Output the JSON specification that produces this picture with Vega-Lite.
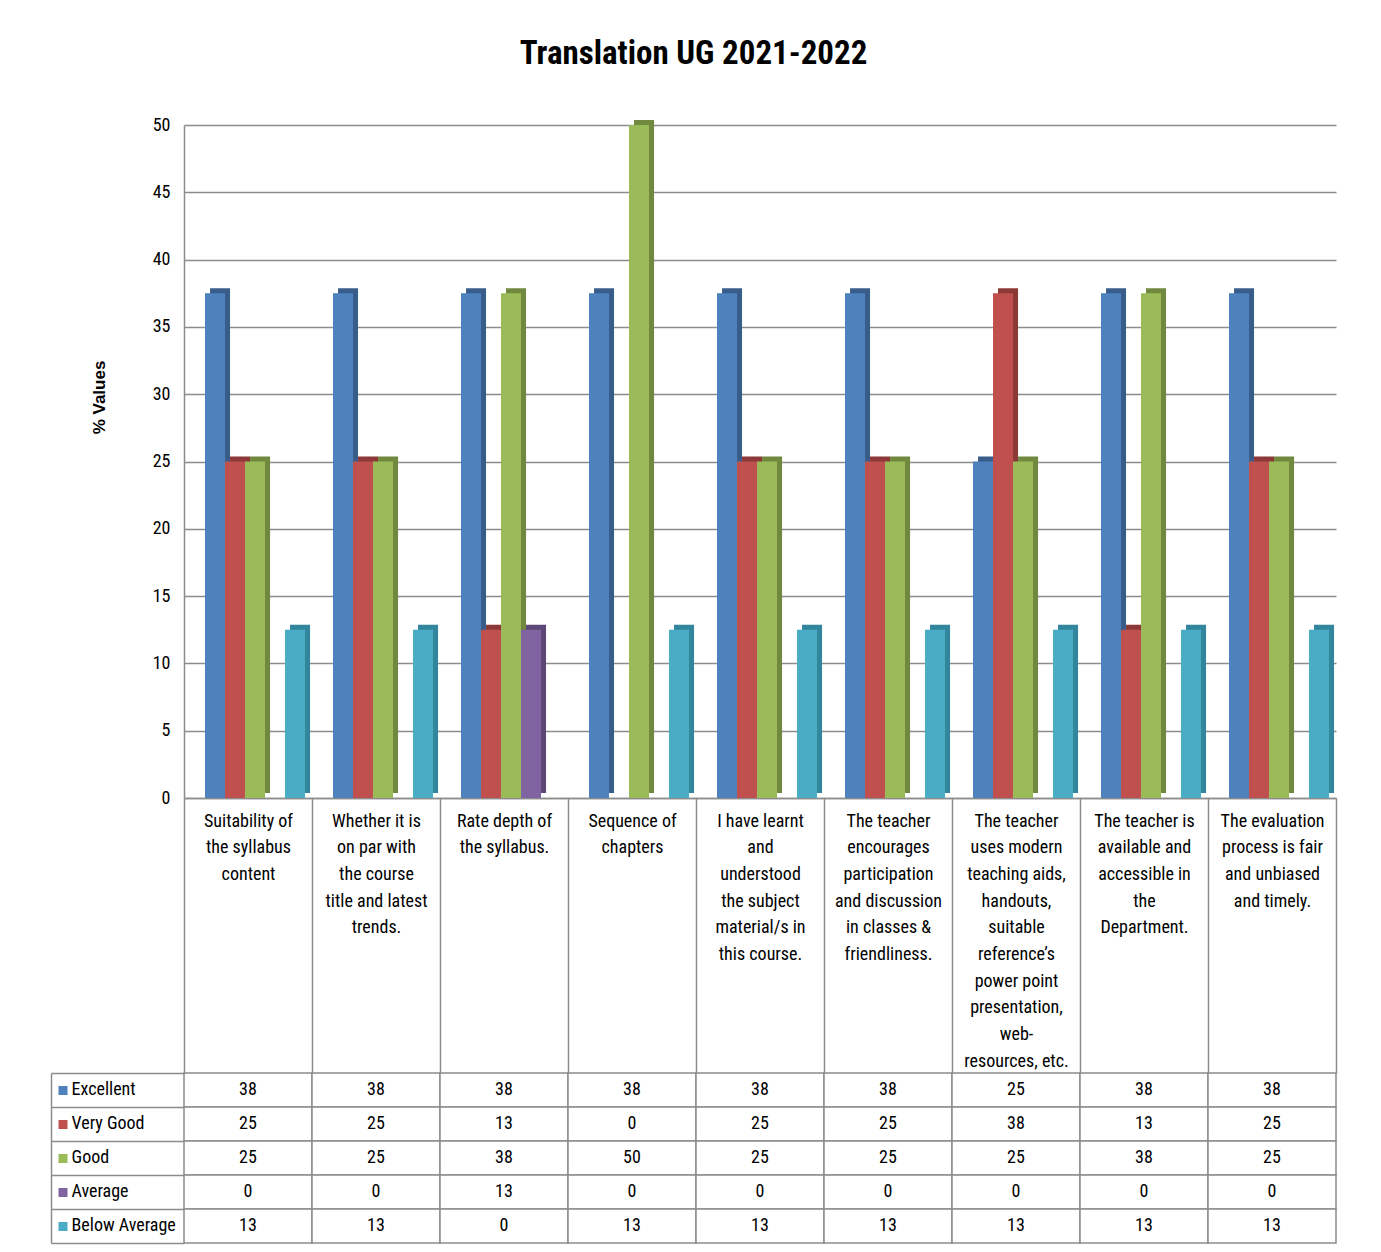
{
  "$schema": "https://vega.github.io/schema/vega-lite/v6.json",
  "background": "white",
  "padding": {"left": 50, "top": 38, "right": 20, "bottom": 8},
  "title": {"text": "Translation UG 2021-2022", "fontSize": 33, "fontWeight": "bold", "color": "black", "anchor": "middle", "frame": "bounds", "offset": 45},
  "datasets": {
    "survey": [
      {"question": "Suitability of\nthe syllabus\ncontent", "rating": "Excellent", "value": 37.5},
      {"question": "Suitability of\nthe syllabus\ncontent", "rating": "Very Good", "value": 25},
      {"question": "Suitability of\nthe syllabus\ncontent", "rating": "Good", "value": 25},
      {"question": "Suitability of\nthe syllabus\ncontent", "rating": "Average", "value": 0},
      {"question": "Suitability of\nthe syllabus\ncontent", "rating": "Below Average", "value": 12.5},
      {"question": "Whether it is\non par with\nthe course\ntitle and latest\ntrends.", "rating": "Excellent", "value": 37.5},
      {"question": "Whether it is\non par with\nthe course\ntitle and latest\ntrends.", "rating": "Very Good", "value": 25},
      {"question": "Whether it is\non par with\nthe course\ntitle and latest\ntrends.", "rating": "Good", "value": 25},
      {"question": "Whether it is\non par with\nthe course\ntitle and latest\ntrends.", "rating": "Average", "value": 0},
      {"question": "Whether it is\non par with\nthe course\ntitle and latest\ntrends.", "rating": "Below Average", "value": 12.5},
      {"question": "Rate depth of\nthe syllabus.", "rating": "Excellent", "value": 37.5},
      {"question": "Rate depth of\nthe syllabus.", "rating": "Very Good", "value": 12.5},
      {"question": "Rate depth of\nthe syllabus.", "rating": "Good", "value": 37.5},
      {"question": "Rate depth of\nthe syllabus.", "rating": "Average", "value": 12.5},
      {"question": "Rate depth of\nthe syllabus.", "rating": "Below Average", "value": 0},
      {"question": "Sequence of\nchapters", "rating": "Excellent", "value": 37.5},
      {"question": "Sequence of\nchapters", "rating": "Very Good", "value": 0},
      {"question": "Sequence of\nchapters", "rating": "Good", "value": 50},
      {"question": "Sequence of\nchapters", "rating": "Average", "value": 0},
      {"question": "Sequence of\nchapters", "rating": "Below Average", "value": 12.5},
      {"question": "I have learnt\nand\nunderstood\nthe subject\nmaterial/s in\nthis course.", "rating": "Excellent", "value": 37.5},
      {"question": "I have learnt\nand\nunderstood\nthe subject\nmaterial/s in\nthis course.", "rating": "Very Good", "value": 25},
      {"question": "I have learnt\nand\nunderstood\nthe subject\nmaterial/s in\nthis course.", "rating": "Good", "value": 25},
      {"question": "I have learnt\nand\nunderstood\nthe subject\nmaterial/s in\nthis course.", "rating": "Average", "value": 0},
      {"question": "I have learnt\nand\nunderstood\nthe subject\nmaterial/s in\nthis course.", "rating": "Below Average", "value": 12.5},
      {"question": "The teacher\nencourages\nparticipation\nand discussion\nin classes &\nfriendliness.", "rating": "Excellent", "value": 37.5},
      {"question": "The teacher\nencourages\nparticipation\nand discussion\nin classes &\nfriendliness.", "rating": "Very Good", "value": 25},
      {"question": "The teacher\nencourages\nparticipation\nand discussion\nin classes &\nfriendliness.", "rating": "Good", "value": 25},
      {"question": "The teacher\nencourages\nparticipation\nand discussion\nin classes &\nfriendliness.", "rating": "Average", "value": 0},
      {"question": "The teacher\nencourages\nparticipation\nand discussion\nin classes &\nfriendliness.", "rating": "Below Average", "value": 12.5},
      {"question": "The teacher\nuses modern\nteaching aids,\nhandouts,\nsuitable\nreference’s\npower point\npresentation,\nweb-\nresources, etc.", "rating": "Excellent", "value": 25},
      {"question": "The teacher\nuses modern\nteaching aids,\nhandouts,\nsuitable\nreference’s\npower point\npresentation,\nweb-\nresources, etc.", "rating": "Very Good", "value": 37.5},
      {"question": "The teacher\nuses modern\nteaching aids,\nhandouts,\nsuitable\nreference’s\npower point\npresentation,\nweb-\nresources, etc.", "rating": "Good", "value": 25},
      {"question": "The teacher\nuses modern\nteaching aids,\nhandouts,\nsuitable\nreference’s\npower point\npresentation,\nweb-\nresources, etc.", "rating": "Average", "value": 0},
      {"question": "The teacher\nuses modern\nteaching aids,\nhandouts,\nsuitable\nreference’s\npower point\npresentation,\nweb-\nresources, etc.", "rating": "Below Average", "value": 12.5},
      {"question": "The teacher is\navailable and\naccessible in\nthe\nDepartment.", "rating": "Excellent", "value": 37.5},
      {"question": "The teacher is\navailable and\naccessible in\nthe\nDepartment.", "rating": "Very Good", "value": 12.5},
      {"question": "The teacher is\navailable and\naccessible in\nthe\nDepartment.", "rating": "Good", "value": 37.5},
      {"question": "The teacher is\navailable and\naccessible in\nthe\nDepartment.", "rating": "Average", "value": 0},
      {"question": "The teacher is\navailable and\naccessible in\nthe\nDepartment.", "rating": "Below Average", "value": 12.5},
      {"question": "The evaluation\nprocess is fair\nand unbiased\nand timely.", "rating": "Excellent", "value": 37.5},
      {"question": "The evaluation\nprocess is fair\nand unbiased\nand timely.", "rating": "Very Good", "value": 25},
      {"question": "The evaluation\nprocess is fair\nand unbiased\nand timely.", "rating": "Good", "value": 25},
      {"question": "The evaluation\nprocess is fair\nand unbiased\nand timely.", "rating": "Average", "value": 0},
      {"question": "The evaluation\nprocess is fair\nand unbiased\nand timely.", "rating": "Below Average", "value": 12.5}
    ]
  },
  "bounds": "flush",
  "spacing": 275,
  "vconcat": [
    {
      "width": 1152,
      "height": 673,
      "data": {"name": "survey"},
      "encoding": {
        "x": {"field": "question", "type": "nominal", "sort": null,
          "scale": {"paddingInner": 0, "paddingOuter": 0},
          "axis": {"orient": "bottom", "tickBand": "extent", "tickSize": 275, "tickColor": "#8c8c8c", "tickWidth": 1.5, "domainColor": "#8c8c8c", "domainWidth": 1.5, "labelPadding": -261, "labelAngle": 0, "labelFontSize": 18, "labelLineHeight": 26.7, "labelExpr": "isValid(datum.value) ? split(datum.value, '\\n') : ''", "labelLimit": 0, "labelColor": "black", "title": null}},
        "y": {"field": "value", "type": "quantitative",
          "scale": {"domain": [0, 50], "nice": false},
          "axis": {"values": [0, 5, 10, 15, 20, 25, 30, 35, 40, 45, 50], "grid": true, "gridColor": "#8c8c8c", "gridWidth": 1.5, "ticks": false, "labelPadding": 14, "labelFontSize": 18, "labelColor": "black", "domain": true, "domainColor": "#8c8c8c", "domainWidth": 1.5, "title": "% Values", "titleFont": "Liberation Sans", "titleFontSize": 17, "titleFontWeight": "bold", "titleColor": "black", "titlePadding": 44, "titleY": 272}}
      },
      "layer": [
        {
          "mark": {"type": "bar", "yOffset": -5},
          "encoding": {
            "xOffset": {"field": "rating", "type": "nominal", "sort": ["Excellent", "Very Good", "Good", "Average", "Below Average"],
              "scale": {"paddingInner": 0, "paddingOuter": 0.7, "align": 0.93}},
            "color": {"field": "rating", "type": "nominal", "sort": ["Excellent", "Very Good", "Good", "Average", "Below Average"],
              "scale": {"domain": ["Excellent", "Very Good", "Good", "Average", "Below Average"], "range": ["#385D8A", "#8C3836", "#71893F", "#5C4776", "#31859C"]}, "legend": null}
          }
        },
        {
          "mark": {"type": "bar"},
          "encoding": {
            "xOffset": {"field": "rating", "type": "nominal", "sort": ["Excellent", "Very Good", "Good", "Average", "Below Average"],
              "scale": {"paddingInner": 0, "paddingOuter": 0.7, "align": 0.75}},
            "color": {"field": "rating", "type": "nominal", "sort": ["Excellent", "Very Good", "Good", "Average", "Below Average"],
              "scale": {"domain": ["Excellent", "Very Good", "Good", "Average", "Below Average"], "range": ["#4F81BD", "#C0504D", "#9BBB59", "#8064A2", "#4BACC6"]}, "legend": null}
          }
        }
      ],
      "resolve": {"scale": {"color": "independent", "xOffset": "independent"}}
    },
    {
      "width": 1152,
      "height": 170,
      "data": {"name": "survey"},
      "layer": [
        {
          "mark": {"type": "rect", "fill": "white", "stroke": "#8c8c8c", "strokeWidth": 1.5},
          "encoding": {
            "x": {"field": "question", "type": "nominal", "sort": null, "scale": {"paddingInner": 0, "paddingOuter": 0}, "axis": null},
            "y": {"field": "rating", "type": "nominal", "sort": ["Excellent", "Very Good", "Good", "Average", "Below Average"],
              "scale": {"paddingInner": 0, "paddingOuter": 0},
              "axis": {"orient": "left", "offset": 133, "tickSize": -133, "tickBand": "extent", "tickColor": "#8c8c8c", "tickWidth": 1.5, "domain": true, "domainColor": "#8c8c8c", "domainWidth": 1.5, "labels": false, "title": null}}
          }
        },
        {
          "mark": {"type": "text", "fontSize": 18, "color": "black"},
          "encoding": {
            "x": {"field": "question", "type": "nominal", "sort": null, "scale": {"paddingInner": 0, "paddingOuter": 0}, "axis": null},
            "y": {"field": "rating", "type": "nominal", "sort": ["Excellent", "Very Good", "Good", "Average", "Below Average"],
              "scale": {"paddingInner": 0, "paddingOuter": 0},
              "axis": {"orient": "left", "offset": 117, "domain": false, "ticks": true, "tickSize": 9, "tickWidth": 9,
                "tickColor": {"condition": [
                  {"test": "datum.value === 'Excellent'", "value": "#4F81BD"},
                  {"test": "datum.value === 'Very Good'", "value": "#C0504D"},
                  {"test": "datum.value === 'Good'", "value": "#9BBB59"},
                  {"test": "datum.value === 'Average'", "value": "#8064A2"}
                ], "value": "#4BACC6"},
                "labelAlign": "left", "labelPadding": -13, "labelFontSize": 18, "labelColor": "black", "title": null}},
            "text": {"field": "value", "type": "quantitative", "format": ".0f"}
          }
        }
      ],
      "resolve": {"axis": {"y": "independent"}}
    }
  ],
  "config": {
    "font": "Liberation Sans Narrow, Arial Narrow, Roboto Condensed, Liberation Sans, sans-serif",
    "view": {"stroke": null},
    "axis": {"grid": false}
  }
}
